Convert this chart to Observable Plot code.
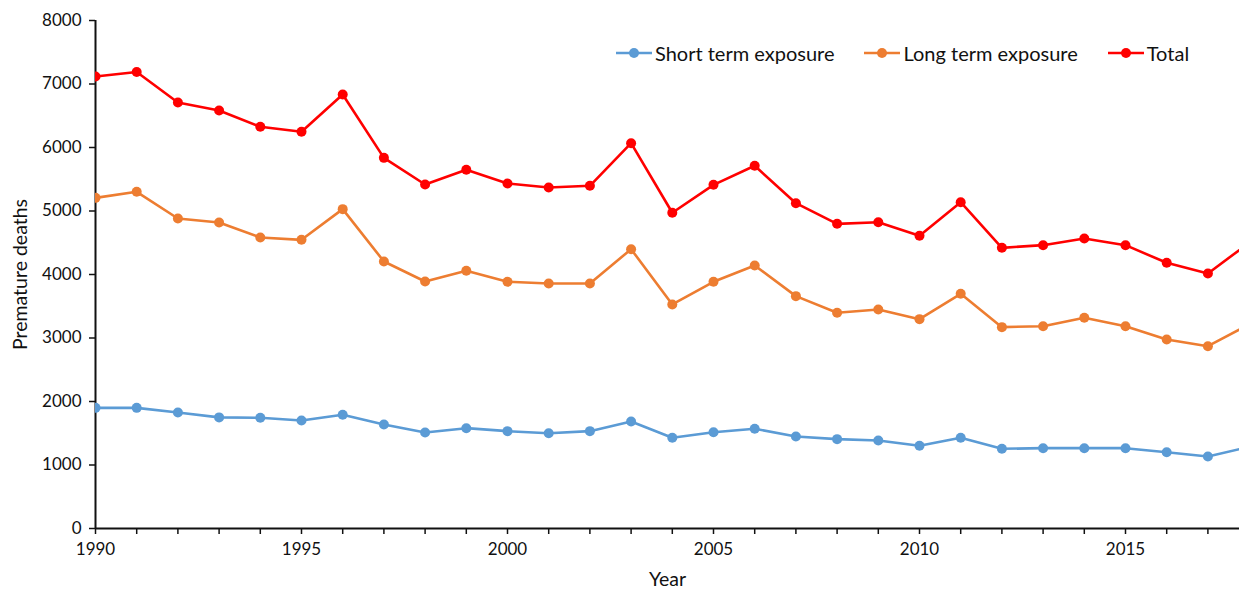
<!DOCTYPE html>
<html>
<head>
<meta charset="utf-8">
<script src="https://cdn.jsdelivr.net/npm/d3@7"></script>
<script src="https://cdn.jsdelivr.net/npm/@observablehq/plot@0.6"></script>
<style>
  html, body { margin: 0; padding: 0; background: #fff; }
  #wrap { position: relative; width: 1239px; height: 591px; font-family: Lato, "Open Sans", sans-serif; }
  #legend { position: absolute; top: 41px; left: 616px; display: flex; font-size: 20px; color: #111; white-space: nowrap; }
  .item { display: flex; align-items: center; }
  .item svg { margin-right: 3px; }
</style>
</head>
<body>
<div id="wrap"><div id="legend"></div></div>
<script>
const years = d3.range(1990, 2019);
const seriesNames = ["Short term exposure", "Long term exposure", "Total"];
const seriesColors = ["#5B9BD5", "#ED7D31", "#FF0000"];
const shortTerm = [1900, 1900, 1827, 1750, 1743, 1701, 1790, 1638, 1512, 1580, 1533, 1501, 1533, 1685, 1428, 1517, 1570, 1449, 1407, 1386, 1302, 1428, 1255, 1265, 1265, 1265, 1202, 1134, 1285];
const longTerm = [5207, 5302, 4882, 4819, 4583, 4546, 5029, 4205, 3890, 4058, 3885, 3858, 3858, 4399, 3528, 3885, 4142, 3659, 3397, 3449, 3297, 3696, 3171, 3186, 3318, 3186, 2976, 2871, 3213];
const total = [7118, 7190, 6709, 6583, 6326, 6247, 6835, 5837, 5417, 5649, 5433, 5370, 5397, 6068, 4972, 5412, 5712, 5123, 4798, 4824, 4609, 5139, 4420, 4462, 4567, 4462, 4184, 4016, 4500];
const yTicks = [0, 1000, 2000, 3000, 4000, 5000, 6000, 7000, 8000];
const xLabel = "Year";
const yLabel = "Premature deaths";

const valuesBySeries = [shortTerm, longTerm, total];
const rows = [];
seriesNames.forEach((s, i) => years.forEach((y, j) => rows.push({series: s, year: y, value: valuesBySeries[i][j]})));

const color = {domain: seriesNames, range: seriesColors};

const chart = Plot.plot({
  width: 1239,
  height: 591,
  marginLeft: 95,
  marginRight: 0,
  marginTop: 20,
  marginBottom: 63,
  style: {fontFamily: "Lato, 'Open Sans', sans-serif", fontSize: "17px", color: "#111", background: "#fff"},
  x: {domain: [1990, 1990 + 1144 / 41.2]},
  y: {domain: [0, 8000]},
  color,
  marks: [
    Plot.axisY({ticks: yTicks, tickSize: 6, tickPadding: 8, fontSize: 17, tickFormat: d => String(d), label: null, stroke: "#111", strokeWidth: 1.5}),
    Plot.axisX({ticks: years.filter(y => y <= 2017), tickSize: 6, tickPadding: 8, fontSize: 17, tickFormat: d => d % 5 === 0 ? String(d) : "", label: null, stroke: "#111", strokeWidth: 1.5}),
    Plot.text([xLabel], {frameAnchor: "bottom", dy: 57, fontSize: 19.5, fill: "#111"}),
    Plot.text([yLabel], {frameAnchor: "left", textAnchor: "middle", dx: -75, rotate: -90, fontSize: 19.5, fill: "#111"}),
    Plot.ruleX([1990], {stroke: "#111", strokeWidth: 2}),
    Plot.ruleY([0], {stroke: "#111", strokeWidth: 2}),
    Plot.line(rows, {x: "year", y: "value", z: "series", stroke: "series", strokeWidth: 2.6, clip: true}),
    Plot.dot(rows, {x: "year", y: "value", fill: "series", r: 5, clip: true})
  ]
});
document.getElementById("wrap").prepend(chart);

const legend = document.getElementById("legend");
const gaps = [30, 30, 0];
seriesNames.forEach((s, i) => {
  const item = document.createElement("div");
  item.className = "item";
  item.style.marginRight = gaps[i] + "px";
  item.innerHTML = `<svg width="36" height="12"><line x1="0" y1="6" x2="36" y2="6" stroke="${seriesColors[i]}" stroke-width="2.6"/><circle cx="18" cy="6" r="5" fill="${seriesColors[i]}"/></svg><span>${s}</span>`;
  legend.appendChild(item);
});
</script>
</body>
</html>
